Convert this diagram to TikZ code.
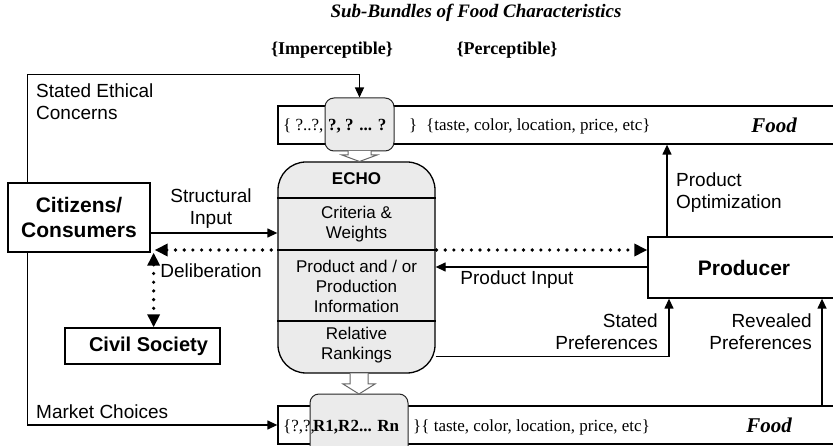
\documentclass[tikz,border=0pt]{standalone}
\usepackage{fontspec}
\setmainfont{Liberation Serif}
\setsansfont{Liberation Sans}
\usetikzlibrary{arrows.meta}
\definecolor{boxgray}{gray}{0.92}
\definecolor{edgegray}{gray}{0.4}
\begin{document}
\begin{tikzpicture}[x=1pt,y=-1pt,
  mainbox/.style={draw, line width=1.3pt, fill=white, inner sep=0pt, align=center,
    font=\sffamily\bfseries\fontsize{21}{25}\selectfont},
  lab/.style={inner sep=0pt, font=\sffamily\fontsize{19}{22}\selectfont},
  echotext/.style={inner sep=0pt, align=center, font=\sffamily\fontsize{17}{20}\selectfont},
  bartext/.style={inner sep=0pt, anchor=base west, font=\rmfamily\fontsize{17}{20}\selectfont},
  foodtext/.style={inner sep=0pt, font=\rmfamily\bfseries\itshape\fontsize{21}{24}\selectfont},
  bar/.style={draw, line width=1.3pt, fill=white, inner sep=0pt, minimum width=562pt, minimum height=38pt},
  graybox/.style={draw=black!85, line width=1pt, fill=boxgray, rounded corners=9pt, inner sep=0pt},
  blockarr/.style={draw=edgegray, line width=1pt, fill=white},
  arr/.style={line width=1.3pt, -{Triangle[length=10pt,width=9pt]}},
  dots/.style={line width=3.6pt, line cap=round, dash pattern=on 0pt off 8.7pt,
    {Triangle[length=13pt,width=12pt]}-{Triangle[length=13pt,width=12pt]}}
]
\useasboundingbox[fill=white] (0,0) rectangle (833,446);

% title and headings
\node[inner sep=0pt, font=\rmfamily\bfseries\itshape\fontsize{19}{22}\selectfont] (title) at (476,13) {Sub-Bundles of Food Characteristics};
\node[inner sep=0pt, font=\rmfamily\bfseries\fontsize{18}{22}\selectfont] (imp) at (332,50) {\{Imperceptible\}};
\node[inner sep=0pt, font=\rmfamily\bfseries\fontsize{18}{22}\selectfont] (per) at (507,50) {\{Perceptible\}};

% bars
\node[bar] (topbar) at (559,125) {};
\node[bar] (botbar) at (559,425) {};
\node[graybox, minimum width=69pt, minimum height=53pt] (tg) at (359.5,124.5) {};
\node[graybox, minimum width=98pt, minimum height=66pt] (bg) at (359,427) {};

% bar texts
\node[bartext] (t1) at (283,131) {\{ ?..?,};
\node[bartext, font=\rmfamily\bfseries\fontsize{17}{20}\selectfont] (t2) at (328,131) {?, ? ... ?};
\node[bartext] (t3) at (409,131) {\}};
\node[bartext] (t4) at (426,131) {\{taste, color, location, price, etc\}};
\node[foodtext] (food1) at (774,125) {Food};

\node[bartext] (b1) at (283,431) {\{?,?,};
\node[bartext, font=\rmfamily\bfseries\fontsize{17}{20}\selectfont] (b2) at (313,431) {R1,R2... Rn};
\node[bartext] (b3) at (413,431) {\}\{ taste, color, location, price, etc\}};
\node[foodtext] (food2) at (769,425) {Food};

% main boxes
\node[mainbox, minimum width=142pt, minimum height=69pt] (cit) at (79,217.5) {Citizens/\\Consumers};
\node[mainbox, minimum width=155pt, minimum height=36pt, font=\sffamily\bfseries\fontsize{20}{24}\selectfont] (civ) at (142.5,346) {\hspace{12pt}Civil Society};
\node[mainbox, minimum width=192pt, minimum height=61pt] (prod) at (744,267.5) {Producer};

% dotted deliberation line (behind ECHO)
\draw[dots] ([xshift=4pt]cit.east |- 0,250) -- (prod.west |- 0,250);
\draw[dots] ([xshift=3pt]cit.south east) -- ([xshift=3pt]cit.south east |- civ.north);

% ECHO
\node[draw, line width=1.3pt, fill=boxgray, rounded corners=28pt, minimum width=157pt, minimum height=211pt, inner sep=0pt] (echo) at (356.5,267.5) {};
\draw[line width=1.2pt] (echo.west |- 0,198) -- (echo.east |- 0,198);
\draw[line width=1.2pt] (echo.west |- 0,250) -- (echo.east |- 0,250);
\draw[line width=1.2pt] (echo.west |- 0,321) -- (echo.east |- 0,321);
\node[echotext, font=\sffamily\bfseries\fontsize{17}{20}\selectfont] (e1) at (356.5,179) {ECHO};
\node[echotext] (e2) at (356.5,224) {Criteria \&\\Weights};
\node[echotext] (e3) at (356.5,286) {Product and / or\\Production\\Information};
\node[echotext] (e4) at (356.5,345) {Relative\\Rankings};

% block arrows
\path[blockarr] (348,151) -- (348,155) -- (342,155) -- (359.5,161.5) -- (377,155) -- (371,155) -- (371,151);
\path[blockarr] (350,373.5) -- (350,384) -- (343,384) -- (359,394) -- (375,384) -- (368,384) -- (368,373.5);

% connectors
\draw[arr] ([xshift=20pt]cit.north west) |- ([yshift=23pt]tg.north) -- (tg.north);
\draw[arr] ([xshift=20pt]cit.south west) |- (botbar.west);
\draw[arr] (cit.east |- 0,233) -- (echo.west |- 0,233);
\draw[arr] (prod.west |- 0,267) -- (echo.east |- 0,267);
\draw[arr] (prod.north -| 667,0) -- (topbar.south -| 667,0);
\draw[arr] ([yshift=-0.5pt]echo.east |- 0,356) -| (prod.south -| 669,0);
\draw[arr] (botbar.north -| 822,0) -- (prod.south -| 822,0);

% labels
\node[lab, anchor=west, align=left] (l1) at (36,102) {Stated Ethical\\Concerns};
\node[lab, align=center] (l2) at (211,209) {Structural\\Input};
\node[lab] (l3) at (211,271) {Deliberation};
\node[lab] (l4) at (517,280) {Product Input};
\node[lab, anchor=west, align=left] (l5) at (676,193) {Product\\Optimization};
\node[lab, anchor=east, align=right] (l6) at (658,332) {Stated\\Preferences};
\node[lab, anchor=east, align=right] (l7) at (812,332) {Revealed\\Preferences};
\node[lab, anchor=west] (l8) at (36,412) {Market Choices};
\end{tikzpicture}
\end{document}
